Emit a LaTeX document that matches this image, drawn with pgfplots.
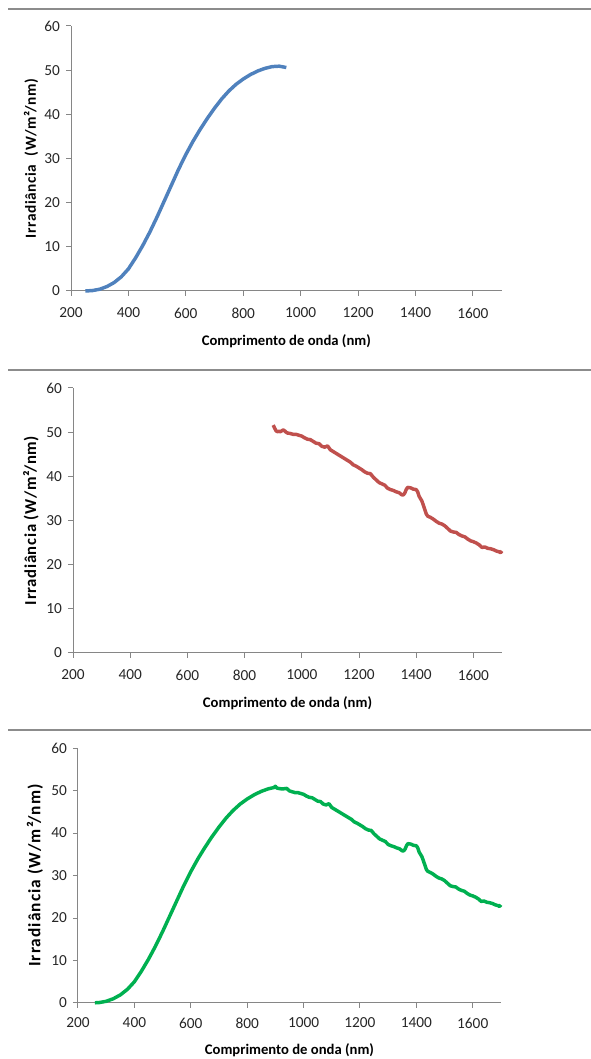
\documentclass[border=0pt]{standalone}
\usepackage{fontspec}
\setmainfont{Carlito}
\usepackage{pgfplots}
\pgfplotsset{compat=1.18}
\usepackage{pgfplotstable}
\definecolor{xlblue}{RGB}{79,129,189}
\definecolor{xlred}{RGB}{192,80,77}
\definecolor{xlgreen}{RGB}{0,176,80}
\definecolor{axgray}{RGB}{134,134,134}
\definecolor{sepgray}{RGB}{140,140,140}

\pgfplotstableread{
x y
250 0.0
275 0.1
300 0.4
325 1.0
350 1.9
375 3.2
400 5.0
425 7.5
450 10.3
475 13.4
500 16.8
525 20.4
550 24.0
575 27.6
600 30.9
625 33.9
650 36.6
675 39.1
700 41.4
725 43.5
750 45.3
775 46.8
800 48.0
825 49.0
850 49.8
875 50.4
900 50.8
925 50.9
950 50.6
}\bluedata

\pgfplotstableread{
x y
900 51.6
905 50.9
910 50.3
915 50.1
920 50.2
925 50.1
930 50.3
935 50.5
940 50.3
945 50.0
950 49.8
960 49.7
970 49.5
980 49.5
990 49.3
1000 49.1
1010 48.7
1020 48.4
1030 48.3
1040 47.9
1050 47.5
1060 47.4
1070 46.8
1080 46.6
1090 46.9
1100 46.0
1110 45.6
1120 45.2
1130 44.8
1140 44.4
1150 44.0
1160 43.6
1170 43.2
1180 42.6
1190 42.3
1200 41.9
1210 41.5
1220 41.0
1230 40.7
1240 40.6
1250 39.8
1260 39.2
1270 38.6
1280 38.3
1290 38.0
1300 37.3
1310 37.0
1320 36.8
1330 36.5
1340 36.3
1350 35.8
1355 35.8
1360 36.2
1365 37.0
1370 37.5
1380 37.4
1390 37.1
1400 37.0
1405 36.5
1410 35.5
1420 34.4
1430 32.5
1435 31.5
1440 31.0
1450 30.7
1460 30.3
1470 29.8
1480 29.4
1490 29.2
1500 28.8
1510 28.2
1520 27.6
1530 27.4
1540 27.3
1550 26.8
1560 26.5
1570 26.3
1580 25.8
1590 25.4
1600 25.2
1610 24.9
1620 24.5
1630 23.9
1640 24.0
1650 23.7
1660 23.6
1670 23.4
1680 23.1
1690 22.9
1695 22.7
1700 23.1
}\reddata

\pgfplotstableread{
x y
260 0.05
275 0.1
300 0.4
325 1.0
350 1.9
375 3.2
400 5.0
425 7.5
450 10.3
475 13.4
500 16.8
525 20.4
550 24.0
575 27.6
600 30.9
625 33.9
650 36.6
675 39.1
700 41.4
725 43.5
750 45.3
775 46.8
800 48.0
825 49.0
850 49.8
875 50.4
895 50.7
900 51.0
905 50.6
910 50.5
920 50.4
930 50.4
940 50.5
950 49.9
960 49.7
970 49.5
980 49.5
990 49.3
1000 49.1
1010 48.7
1020 48.4
1030 48.3
1040 47.9
1050 47.5
1060 47.4
1070 46.8
1080 46.6
1090 46.9
1100 46.0
1110 45.6
1120 45.2
1130 44.8
1140 44.4
1150 44.0
1160 43.6
1170 43.2
1180 42.6
1190 42.3
1200 41.9
1210 41.5
1220 41.0
1230 40.7
1240 40.6
1250 39.8
1260 39.2
1270 38.6
1280 38.3
1290 38.0
1300 37.3
1310 37.0
1320 36.8
1330 36.5
1340 36.3
1350 35.8
1355 35.8
1360 36.2
1365 37.0
1370 37.5
1380 37.4
1390 37.1
1400 37.0
1405 36.5
1410 35.5
1420 34.4
1430 32.5
1435 31.5
1440 31.0
1450 30.7
1460 30.3
1470 29.8
1480 29.4
1490 29.2
1500 28.8
1510 28.2
1520 27.6
1530 27.4
1540 27.3
1550 26.8
1560 26.5
1570 26.3
1580 25.8
1590 25.4
1600 25.2
1610 24.9
1620 24.5
1630 23.9
1640 24.0
1650 23.7
1660 23.6
1670 23.4
1680 23.1
1690 22.9
1695 22.7
1700 23.1
}\greendata

\pgfplotsset{
  xlstyle/.style={
    scale only axis,
    anchor=south west,
    xmin=200, xmax=1700, ymin=0, ymax=60,
    xtick={200,400,...,1600},
    ytick={0,10,...,60},
    axis x line*=bottom,
    axis y line*=left,
    axis line style={axgray, line width=0.75pt},
    tick style={axgray, line width=0.75pt},
    tick align=outside,
    major tick length=3.75pt,
    clip=false,
    /pgf/number format/assume math mode=true,
    /pgf/number format/1000 sep={},
    tick label style={font=\fontsize{11.5}{13}\selectfont, text=black!85},
    yticklabel style={xshift=-1pt},
    xlabel style={font=\fontsize{11}{13}\selectfont\bfseries, text=black,
      at={(axis description cs:0.5,0)}, anchor=center, inner sep=1pt},
    xlabel={Comprimento de onda (nm)},
  }
}

\begin{document}
\begin{tikzpicture}
\path[use as bounding box] (0pt,0pt) rectangle (443.25pt,794.25pt);
\draw[sepgray, line width=1.1pt] (6pt,787.5pt) -- (443.25pt,787.5pt);
\draw[sepgray, line width=1.1pt] (6pt,516.75pt) -- (443.25pt,516.75pt);
\draw[sepgray, line width=1.1pt] (6pt,246.75pt) -- (443.25pt,246.75pt);

\begin{axis}[xlstyle, at={(53.25pt,576pt)}, width=323pt, height=198.75pt,
  xticklabel style={anchor=center, yshift=-12.75pt},
  xlabel style={yshift=-38pt},
  ylabel style={font=\fontsize{11.5}{13}\selectfont\bfseries\addfontfeature{LetterSpace=4}, text=black,
    at={(axis description cs:0,0.5)}, anchor=center, yshift=30pt},
  ylabel={Irradiância\ \ (W/m²/nm)}]
\addplot[xlblue, line width=2.6pt, line join=round] table[x=x,y=y] {\bluedata};
\end{axis}

\begin{axis}[xlstyle, at={(54.75pt,304.5pt)}, width=321.75pt, height=198.75pt,
  xticklabel style={anchor=center, yshift=-12.75pt},
  xlabel style={yshift=-38pt},
  ylabel style={font=\fontsize{12.5}{14}\selectfont\bfseries\addfontfeature{LetterSpace=4}, text=black,
    at={(axis description cs:0,0.5)}, anchor=center, yshift=31.5pt},
  ylabel={Irradiância (W/m²/nm)}]
\addplot[xlred, line width=2.6pt, line join=round] table[x=x,y=y] {\reddata};
\end{axis}

\begin{axis}[xlstyle, at={(58.5pt,42pt)}, width=317.2pt, height=191.25pt,
  xticklabel style={anchor=center, yshift=-11.25pt},
  xlabel style={yshift=-35.25pt},
  ylabel style={font=\fontsize{13}{15}\selectfont\bfseries\addfontfeature{LetterSpace=6}, text=black,
    at={(axis description cs:0,0.5)}, anchor=center, yshift=32.25pt},
  ylabel={Irradiância (W/m²/nm)}]
\addplot[xlgreen, line width=2.6pt, line join=round] table[x=x,y=y] {\greendata};
\end{axis}
\end{tikzpicture}
\end{document}
